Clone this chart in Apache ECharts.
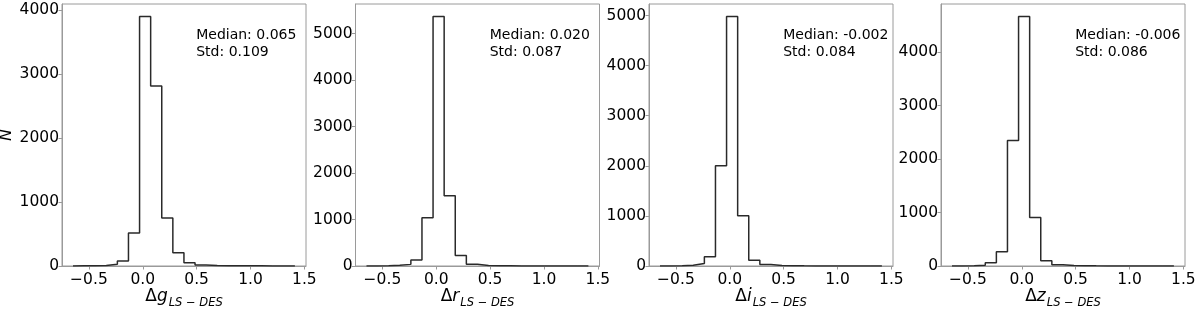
<!DOCTYPE html>
<html><head><meta charset="utf-8">
<script src="https://cdn.jsdelivr.net/npm/echarts@6/dist/echarts.min.js"></script>
<style>html,body{margin:0;padding:0;background:#fff}#c{width:1200px;height:309px}</style>
</head><body><div id="c"></div>
<script>
// histogram bins shared by all panels
const binStart = -0.648;
const binWidth = 0.103;
// counts per bin (20 bins)
const countsG = [2,3,8,26,78,516,3900,2812,750,208,52,15,6,4,3,2,2,1,1,1];
const countsR = [1,3,14,35,130,1040,5370,1510,225,40,12,6,4,2,2,1,1,1,0,1];
const countsI = [1,3,14,52,183,2000,4980,1005,115,30,10,5,3,2,2,1,1,1,0,1];
const countsZ = [1,4,12,60,265,2350,4670,910,100,25,10,5,3,2,2,1,1,1,0,1];
const bands = ['g','r','i','z'];
const medians = ['0.065','0.020','-0.002','-0.006'];
const stds = ['0.109','0.087','0.084','0.086'];
const xTicks = [-0.5, 0.0, 0.5, 1.0, 1.5];
const yTicksG = [0,1000,2000,3000,4000];
const yTicksR = [0,1000,2000,3000,4000,5000];
const yTicksI = [0,1000,2000,3000,4000,5000];
const yTicksZ = [0,1000,2000,3000,4000];

const allCounts = [countsG, countsR, countsI, countsZ];
const allYTicks = [yTicksG, yTicksR, yTicksI, yTicksZ];

const FONT = 'DejaVu Sans';
const gridLefts = [62, 355.5, 649, 941];
const gridW = 244, gridTop = 4, gridH = 262;
const spine = '#9a9a9a';

function stepPoints(counts) {
  const pts = [];
  pts.push([binStart, 0]);
  for (let k = 0; k < counts.length; k++) {
    const a = binStart + k * binWidth, b = binStart + (k + 1) * binWidth;
    pts.push([a, counts[k]]);
    pts.push([b, counts[k]]);
  }
  pts.push([binStart + counts.length * binWidth, 0]);
  return pts;
}
function fmtX(v) {
  const s = Math.abs(v).toFixed(1);
  return v < 0 ? '\u2212' + s : s;
}

const grid = [], xAxis = [], yAxis = [], series = [], graphic = [];
for (let i = 0; i < 4; i++) {
  grid.push({left: gridLefts[i], top: gridTop, width: gridW, height: gridH,
    show: true, borderColor: spine, borderWidth: 1, backgroundColor: 'transparent',
    containLabel: false, outerBoundsMode: 'none'});
  xAxis.push({
    type: 'value', gridIndex: i, min: -0.75, max: 1.515,
    axisLine: {show: true, onZero: false, lineStyle: {color: spine, width: 1}},
    axisTick: {show: true, length: 3.5, lineStyle: {color: spine}, customValues: xTicks},
    axisLabel: {customValues: xTicks, formatter: fmtX, fontSize: 15.5, color: '#000', fontFamily: FONT, margin: 6},
    splitLine: {show: false},
    name: '{d|\u0394}{v|' + bands[i] + '}{s|LS \u2212 DES}',
    nameLocation: 'middle', nameGap: 22, nameMoveOverlap: false,
    nameTextStyle: {
      rich: {
        d: {fontSize: 17, fontFamily: FONT, color: '#000', lineHeight: 21, verticalAlign: 'top'},
        v: {fontSize: 17, fontFamily: FONT, fontStyle: 'italic', color: '#000', lineHeight: 21, verticalAlign: 'top'},
        s: {fontSize: 11.5, fontFamily: FONT, fontStyle: 'italic', color: '#000', lineHeight: 13, verticalAlign: 'top', padding: [9, 0, 0, 1]}
      }
    }
  });
  const counts = allCounts[i];
  const ymax = Math.max.apply(null, counts) * 1.05;
  yAxis.push({
    type: 'value', gridIndex: i, min: 0, max: ymax,
    axisLine: {show: true, onZero: false, lineStyle: {color: spine, width: 1}},
    axisTick: {show: true, length: 3.5, lineStyle: {color: spine}, customValues: allYTicks[i]},
    axisLabel: {customValues: allYTicks[i], formatter: function (v) { return String(Math.round(v)); },
      fontSize: 15.5, color: '#000', fontFamily: FONT, margin: 3},
    splitLine: {show: false},
    name: i === 0 ? 'N' : '',
    nameLocation: 'middle', nameRotate: 90, nameGap: 47, nameMoveOverlap: false,
    nameTextStyle: {fontSize: 16, fontStyle: 'italic', fontFamily: FONT, color: '#000'}
  });
  series.push({
    type: 'line', xAxisIndex: i, yAxisIndex: i, data: stepPoints(counts),
    showSymbol: false, symbol: 'none', animation: false, silent: true,
    lineStyle: {color: '#2a2a2a', width: 1.5}
  });
  graphic.push({
    type: 'text', left: gridLefts[i] + 0.55 * gridW, top: 27,
    style: {text: 'Median: ' + medians[i] + '\nStd: ' + stds[i], font: '14px "DejaVu Sans"', fill: '#000', lineHeight: 17}
  });
}

const chart = echarts.init(document.getElementById('c'), null, {renderer: 'canvas'});
chart.setOption({animation: false, backgroundColor: '#fff', grid, xAxis, yAxis, series, graphic});
</script>
</body></html>
